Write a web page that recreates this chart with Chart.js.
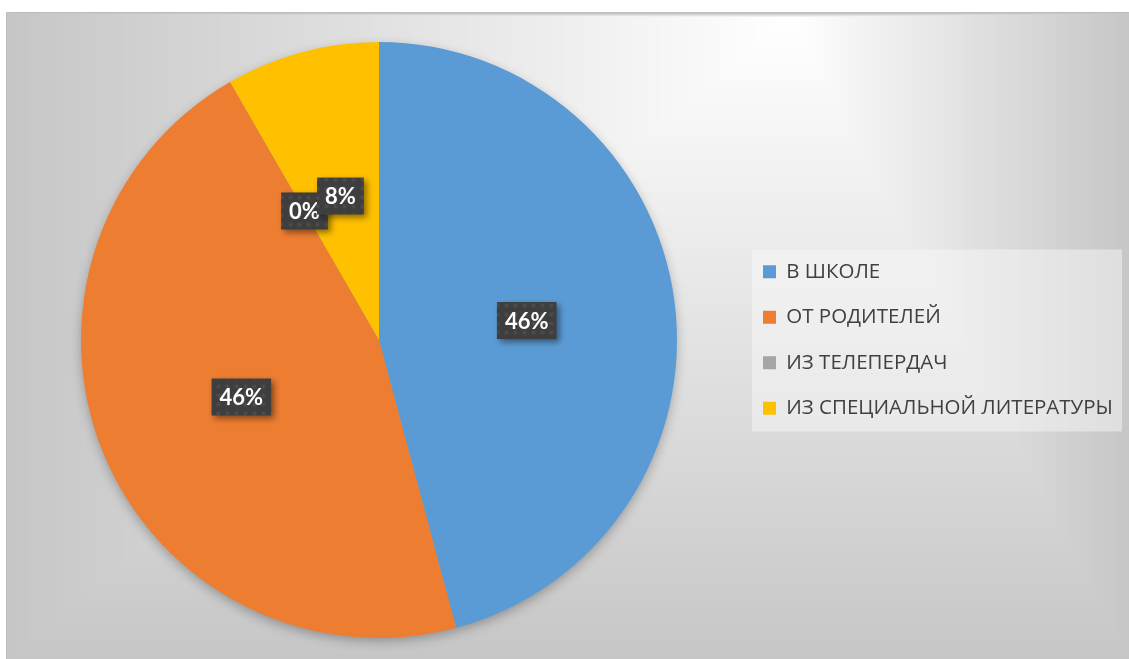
<!DOCTYPE html>
<html>
<head>
<meta charset="utf-8">
<title>Pie</title>
<script src="https://cdn.jsdelivr.net/npm/chart.js@4.4.1/dist/chart.umd.min.js"></script>
<style>
  html, body { margin: 0; padding: 0; background: #ffffff; overflow: hidden; }
  #frame {
    position: absolute; left: 6px; top: 12px; width: 1123px; height: 647px;
    border-left: 1px solid #bdbdbd; border-top: 1px solid #bdbdbd;
  }
  canvas { display: block; }
</style>
</head>
<body>
<div id="frame"><canvas id="pieChart" width="1123" height="647"></canvas></div>
<script type="text/javascript">
  // answers to the survey question, counts per source
  var categories = ["В ШКОЛЕ", "ОТ РОДИТЕЛЕЙ", "ИЗ ТЕЛЕПЕРДАЧ", "ИЗ СПЕЦИАЛЬНОЙ ЛИТЕРАТУРЫ"];
  var answers = [11, 11, 0, 2];
  var sliceColors = ["#5B9BD5", "#ED7D31", "#A5A5A5", "#FFC000"];

  var legendFont = { family: "'Open Sans', 'Noto Sans', sans-serif", size: 20.5 };
  var legendPadding = 25;

  // work out how wide the legend will be so the pie sits where it should
  var probe = document.createElement("canvas").getContext("2d");
  probe.font = legendFont.size + "px " + legendFont.family;
  var longest = 0;
  categories.forEach(function (c) { longest = Math.max(longest, probe.measureText(c).width); });
  var legendWidth = legendPadding + 13 + legendFont.size / 2 + longest + 10;
  var legendLeft = 731;
  var padRight = Math.max(0, 1123 - legendLeft - legendWidth);

  var bgCache = null;
  function buildBackground(W, H) {
    // rectangular "path" gradient, white near the top, grey at every edge
    var c = document.createElement("canvas");
    c.width = W; c.height = H;
    var p = c.getContext("2d");
    var img = p.createImageData(W, H);
    var cx = 783, cy = 4;
    var inner = 255, outer = 198;
    for (var y = 0; y < H; y++) {
      var dy = y < cy ? (cy - y) / Math.max(cy, 1) : (y - cy) / (H - cy);
      for (var x = 0; x < W; x++) {
        var dx = x < cx ? (cx - x) / cx : (x - cx) / (W - cx);
        var t = Math.min(1, Math.max(dx, dy));
        var v = Math.round(inner + (outer - inner) * t);
        var k = (y * W + x) * 4;
        img.data[k] = v; img.data[k + 1] = v; img.data[k + 2] = v; img.data[k + 3] = 255;
      }
    }
    p.putImageData(img, 0, 0);
    return c;
  }

  var backgroundPlugin = {
    id: "officeBackground",
    beforeDraw: function (chart) {
      var ctx = chart.ctx;
      if (!bgCache) bgCache = buildBackground(chart.width, chart.height);
      ctx.save();
      ctx.drawImage(bgCache, 0, 0);

      // legend panel
      var hb = chart.legend.legendHitBoxes;
      if (hb && hb.length) {
        var maxW = 0;
        hb.forEach(function (h) { maxW = Math.max(maxW, h.width); });
        var x0 = hb[0].left - 11, y0 = hb[0].top - 12;
        var last = hb[hb.length - 1];
        ctx.fillStyle = "rgba(250,250,250,0.45)";
        ctx.fillRect(x0, y0, maxW + 20, last.top + last.height + 13 - y0);
      }
      ctx.restore();
    }
  };

  // soft shadow under the whole pie
  var pieShadowPlugin = {
    id: "pieShadow",
    beforeDatasetsDraw: function (chart) {
      var arc = chart.getDatasetMeta(0).data[0];
      if (!arc) return;
      var ctx = chart.ctx;
      ctx.save();
      ctx.shadowColor = "rgba(0,0,0,0.30)";
      ctx.shadowBlur = 12;
      ctx.shadowOffsetY = 4;
      ctx.beginPath();
      ctx.arc(arc.x, arc.y, arc.outerRadius - 1, 0, Math.PI * 2);
      ctx.fillStyle = "#9a9a9a";
      ctx.fill();
      ctx.restore();
    }
  };

  function makeDotPattern(ctx) {
    var c = document.createElement("canvas");
    c.width = 9; c.height = 9;
    var p = c.getContext("2d");
    p.fillStyle = "#3e3e3e";
    p.fillRect(0, 0, 9, 9);
    var g = p.createRadialGradient(4.5, 4.5, 0, 4.5, 4.5, 3);
    g.addColorStop(0, "rgba(255,255,255,0.10)");
    g.addColorStop(1, "rgba(255,255,255,0)");
    p.fillStyle = g;
    p.fillRect(0, 0, 9, 9);
    return ctx.createPattern(c, "repeat");
  }

  // percentage labels in dark boxes, placed at half radius
  var dataLabelPlugin = {
    id: "boxLabels",
    afterDatasetsDraw: function (chart) {
      var ctx = chart.ctx;
      var meta = chart.getDatasetMeta(0);
      var values = chart.data.datasets[0].data;
      var total = values.reduce(function (a, b) { return a + b; }, 0);
      var pattern = makeDotPattern(ctx);
      ctx.save();
      ctx.font = "bold 22px Lato, 'Open Sans', sans-serif";
      ctx.textAlign = "center";
      ctx.textBaseline = "middle";
      meta.data.forEach(function (arc, i) {
        var pos = arc.tooltipPosition();
        var text = Math.round(values[i] / total * 100) + "%";
        var w = ctx.measureText(text).width + 16, h = 37;
        ctx.save();
        ctx.shadowColor = "rgba(0,0,0,0.45)";
        ctx.shadowBlur = 6;
        ctx.shadowOffsetX = 3;
        ctx.shadowOffsetY = 3;
        ctx.fillStyle = pattern;
        ctx.fillRect(pos.x - w / 2, pos.y - h / 2, w, h);
        ctx.restore();
        ctx.fillStyle = "#ffffff";
        ctx.fillText(text, pos.x, pos.y + 1);
      });
      ctx.restore();
    }
  };

  var chart = new Chart("pieChart", {
    type: "pie",
    data: {
      labels: categories,
      datasets: [{
        data: answers,
        backgroundColor: sliceColors,
        borderWidth: 0
      }]
    },
    options: {
      responsive: false,
      animation: false,
      layout: {
        padding: { left: 13, top: 29, bottom: 22, right: padRight }
      },
      plugins: {
        legend: {
          display: true,
          position: "right",
          align: "center",
          labels: {
            boxWidth: 13,
            boxHeight: 13,
            padding: legendPadding,
            color: "#404040",
            font: legendFont
          }
        },
        tooltip: { enabled: false }
      }
    },
    plugins: [backgroundPlugin, pieShadowPlugin, dataLabelPlugin]
  });
</script>
</body>
</html>
